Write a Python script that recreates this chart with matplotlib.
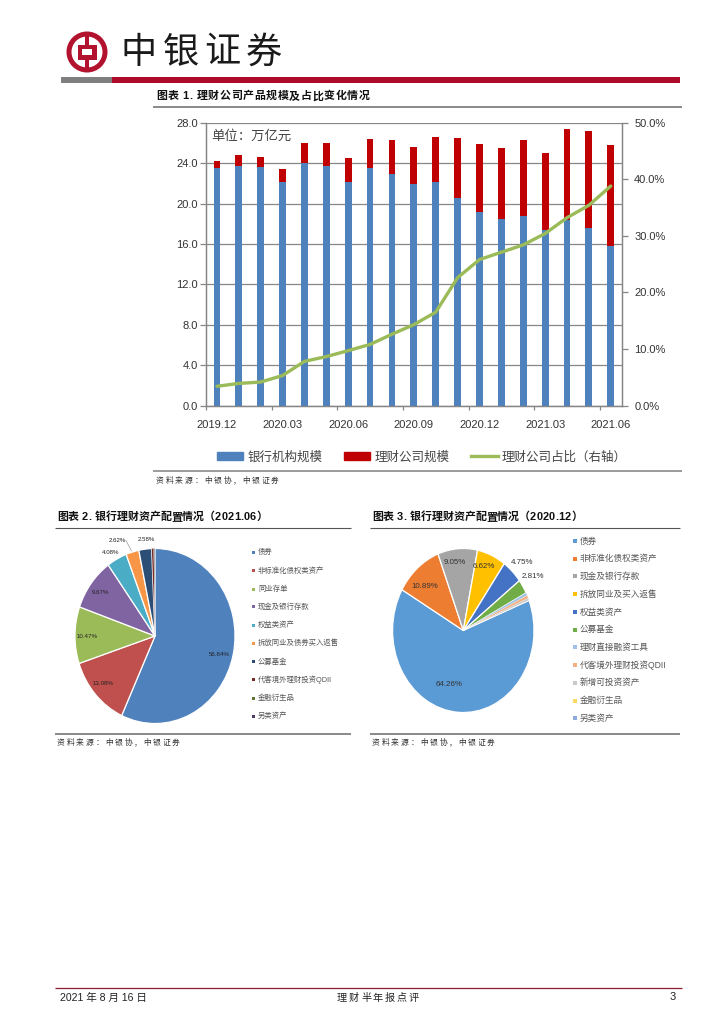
import matplotlib
matplotlib.use("Agg")
import matplotlib.pyplot as plt
from matplotlib.patches import Circle, Rectangle, Patch
from matplotlib.lines import Line2D

plt.rcParams['font.family'] = ['Liberation Sans', 'Noto Sans CJK SC', 'DejaVu Sans']
CJK = ['Noto Sans CJK SC', 'DejaVu Sans']

W, H = 724, 1024

months = ['2019.12', '2020.01', '2020.02', '2020.03', '2020.04', '2020.05', '2020.06',
          '2020.07', '2020.08', '2020.09', '2020.10', '2020.11', '2020.12', '2021.01',
          '2021.02', '2021.03', '2021.04', '2021.05', '2021.06']
bank_scale = [23.48, 23.74, 23.64, 22.16, 24.04, 23.74, 22.16, 23.54, 22.9, 21.93,
              22.13, 20.5, 19.15, 18.5, 18.8, 17.4, 18.33, 17.57, 15.8]
total_scale = [24.24, 24.77, 24.6, 23.4, 25.99, 25.99, 24.5, 26.4, 26.28, 25.6,
               26.54, 26.45, 25.85, 25.46, 26.3, 25.03, 27.4, 27.2, 25.8]
wm_share = [3.4, 3.9, 4.15, 5.3, 7.8, 8.65, 9.7, 10.8, 12.6, 14.3,
            16.5, 22.6, 25.8, 27.1, 28.4, 30.4, 33.2, 35.4, 38.8]
series_names = ['银行机构规模', '理财公司规模', '理财公司占比（右轴）']

pie2_labels = ['债券', '非标准化债权类资产', '同业存单', '现金及银行存款', '权益类资产',
               '拆放同业及债券买入返售', '公募基金', '代客境外理财投资QDII', '金融衍生品', '另类资产']
pie2_values = [56.84, 13.08, 10.47, 9.67, 4.08, 2.62, 2.58, 0.42, 0.14, 0.10]
pie2_colors = ['#4F81BD', '#C0504D', '#9BBB59', '#8064A2', '#4BACC6', '#F79646',
               '#2C4D75', '#772C2A', '#5F7530', '#4D3B62']

pie3_labels = ['债券', '非标准化债权类资产', '现金及银行存款', '拆放同业及买入返售', '权益类资产',
               '公募基金', '理财直接融资工具', '代客境外理财投资QDII', '新增可投资资产', '金融衍生品', '另类资产']
pie3_values = [64.26, 10.89, 9.05, 6.62, 4.75, 2.81, 0.55, 0.6, 0.45, 0.01, 0.01]
pie3_colors = ['#5B9BD5', '#ED7D31', '#A5A5A5', '#FFC000', '#4472C4', '#70AD47',
               '#9DC3E6', '#F4B183', '#C9C9C9', '#FFD966', '#8FAADC']

fig = plt.figure(figsize=(W / 100, H / 100), dpi=100, facecolor='white')


def fx(px):
    return px / W


def fy(py):
    return 1 - py / H


def axes_px(l, t, r, b, **kw):
    return fig.add_axes([fx(l), fy(b), (r - l) / W, (b - t) / H], **kw)


def rule(x0, x1, y, color, lw):
    fig.add_artist(Line2D([fx(x0), fx(x1)], [fy(y), fy(y)], color=color, lw=lw, solid_capstyle='butt'))


def txt(px, py, s, size, color='#222222', ha='left', va='center', **kw):
    kw.setdefault('family', plt.rcParams['font.family'])
    return fig.text(fx(px), fy(py), s, fontsize=size, color=color, ha=ha, va=va, **kw)


def spaced(px, py, s, size, step, **kw):
    x = px
    for ch in s:
        txt(x, py, ch, size, family=CJK if ord(ch) > 255 else ['Liberation Sans'], **kw)
        if ord(ch) > 255:
            x += step
        elif ch in '. ':
            x += step * 0.3
        else:
            x += step * 0.58


# ---------- header ----------
logo = axes_px(62, 28, 112, 78)
logo.set_xlim(0, 50)
logo.set_ylim(50, 0)
logo.axis('off')
RED = '#B2122D'
logo.add_patch(Circle((25, 24), 20.5, color=RED, lw=0))
logo.add_patch(Circle((25, 24), 15.5, color='white', lw=0))
logo.add_patch(Rectangle((23.2, 4), 3.6, 40, color=RED, lw=0))
logo.add_patch(Rectangle((15.5, 16.5), 19, 15, color=RED, lw=0))
logo.add_patch(Rectangle((20, 21), 10, 6, color='white', lw=0))
for i, ch in enumerate('中银证券'):
    txt(121 + i * 41.5, 52.5, ch, 26, color='#1a1a1a', family=CJK, fontweight='medium')
fig.add_artist(Rectangle((fx(61), fy(83)), 51 / W, 6 / H, transform=fig.transFigure, color='#7F7F7F', lw=0))
fig.add_artist(Rectangle((fx(112), fy(83)), 568 / W, 6 / H, transform=fig.transFigure, color='#AE0B2A', lw=0))

# ---------- section titles and rules ----------
GREY = '#808080'
spaced(156, 96, '图表 1. 理财公司产品规模及占比变化情况', 7.9, 11.6, fontweight='bold', color='#111111')
rule(153, 682, 107, GREY, 1.3)
rule(153, 682, 471, GREY, 1.1)
spaced(156, 481, '资料来源：中银协，中银证券', 5.6, 9.6, color='#333333')

spaced(57, 517, '图表 2. 银行理财资产配置情况（2021.06）', 7.9, 10.9, fontweight='bold', color='#111111')
rule(55, 351, 528, '#555555', 0.8)
rule(55, 351, 734, GREY, 1.3)
spaced(57, 743, '资料来源：中银协，中银证券', 5.6, 9.6, color='#333333')

spaced(372, 517, '图表 3. 银行理财资产配置情况（2020.12）', 7.9, 10.9, fontweight='bold', color='#111111')
rule(370, 680, 528, '#555555', 0.8)
rule(370, 680, 734, GREY, 1.3)
spaced(372, 743, '资料来源：中银协，中银证券', 5.6, 9.6, color='#333333')

# ---------- chart 1 ----------
SPINE = '#868686'
ax = axes_px(206, 122.7, 621.7, 405.5)
xs = list(range(len(months)))
company_scale = [t - b for t, b in zip(total_scale, bank_scale)]
ax.bar(xs, bank_scale, width=0.31, color='#4F81BD', zorder=3, label=series_names[0])
ax.bar(xs, company_scale, bottom=bank_scale, width=0.31, color='#C00000', zorder=3, label=series_names[1])
ax.set_xlim(-0.5, len(months) - 0.5)
ax.set_ylim(0, 28)
ax.set_yticks(range(0, 29, 4))
ax.set_yticklabels([f'{v:.1f}' for v in range(0, 29, 4)], fontsize=8, color='#333333')
ax.grid(axis='y', color=SPINE, lw=0.9, zorder=0)
ax.set_axisbelow(True)
ax.set_xticks([i - 0.5 for i in range(0, 19, 3)])
ax.set_xticklabels([])
ax.tick_params(axis='x', length=3, width=0.9, color=SPINE)
ax.tick_params(axis='y', length=4, width=0.9, color=SPINE, pad=2)
for i in range(0, 19, 3):
    ax.annotate(months[i], (i, 0), xytext=(0, -19), textcoords='offset pixels',
                ha='center', va='center', fontsize=8, color='#333333')
ax.spines['top'].set_visible(False)
for s in ['left', 'right', 'bottom']:
    ax.spines[s].set_color(SPINE)
    ax.spines[s].set_linewidth(0.9)
ax2 = ax.twinx()
ax2.plot(xs, wm_share, color='#9BBB59', lw=2.4, zorder=5, solid_capstyle='round', label=series_names[2])
ax2.set_ylim(0, 50)
ax2.set_yticks(range(0, 51, 10))
ax2.set_yticklabels([f'{v:.1f}%' for v in range(0, 51, 10)], fontsize=8, color='#333333')
ax2.tick_params(axis='y', length=4, width=0.9, color=SPINE, pad=5)
ax2.spines['top'].set_visible(False)
for s in ['left', 'right', 'bottom']:
    ax2.spines[s].set_color(SPINE)
    ax2.spines[s].set_linewidth(0.9)
txt(211, 136, '单位：万亿元', 9.6, color='#444444', family=CJK)
fig.legend(handles=[Patch(color='#4F81BD'), Patch(color='#C00000'), Line2D([], [], color='#9BBB59', lw=2.4)],
           labels=series_names, loc='center left', bbox_to_anchor=(fx(217), fy(457)), ncol=3, frameon=False,
           prop={'family': CJK, 'size': 9}, labelcolor='#444444', handlelength=2.1, handleheight=0.55,
           handletextpad=0.32, columnspacing=1.75, borderpad=0, borderaxespad=0)


# ---------- pies ----------
def draw_pie(cx, cy, rx, ry, values, colors, startangle):
    a = axes_px(cx - rx * 1.02, cy - ry * 1.02, cx + rx * 1.02, cy + ry * 1.02)
    wedges, _ = a.pie(values, colors=colors, startangle=startangle, counterclock=False,
                      radius=1, wedgeprops={'edgecolor': 'white', 'linewidth': 0.9})
    for w, v in zip(wedges, values):
        if v < 1:
            w.set_linewidth(0.15)
    a.set_aspect('auto')
    a.set_xlim(-1.02, 1.02)
    a.set_ylim(-1.02, 1.02)
    return wedges


draw_pie(155, 636, 80, 87.5, pie2_values, pie2_colors, 90)
draw_pie(463.3, 630.5, 70.7, 82, pie3_values, pie3_colors, 21.5)

pie2_text = [('56.84%', 219, 654), ('13.08%', 103, 683.5), ('10.47%', 87, 636), ('9.67%', 100, 592.5),
             ('4.08%', 111, 552), ('2.62%', 117, 540), ('2.58%', 146, 539.5)]
for s, x, y in pie2_text:
    txt(x, y, s, 4.4, ha='center', color='#222222')
fig.add_artist(Line2D([fx(126), fx(131.5)], [fy(540.5), fy(551)], color='#999999', lw=0.5))
pie3_text = [('64.26%', 449, 685), ('10.89%', 424.3, 586.7), ('9.05%', 455, 562), ('6.62%', 484, 567),
             ('4.75%', 522, 562), ('2.81%', 533.3, 576.7)]
for s, x, y in pie3_text:
    txt(x, y, s, 5.7, ha='center', color='#333333')

y2 = [552.3, 570.7, 589, 606.7, 625, 643, 661.7, 679.7, 698, 716]
for lab, col, y in zip(pie2_labels, pie2_colors, y2):
    fig.add_artist(Rectangle((fx(251.5), fy(y + 1.5)), 3 / W, 3 / H, transform=fig.transFigure, color=col, lw=0))
    txt(258, y, lab, 5.3, color='#555555')
y3 = [541, 558.7, 576.3, 594.3, 612, 629.7, 647.3, 665.3, 682.7, 700.7, 718.3]
for lab, col, y in zip(pie3_labels, pie3_colors, y3):
    fig.add_artist(Rectangle((fx(573), fy(y + 2)), 4 / W, 4 / H, transform=fig.transFigure, color=col, lw=0))
    txt(580, y, lab, 6.2, color='#555555')

# ---------- footer ----------
rule(55, 682, 988, '#8E1B2E', 0.9)
txt(60, 997.5, '2021 年 8 月 16 日', 7.6, color='#222222')
spaced(337, 997.5, '理财半年报点评', 7.3, 12, color='#222222')
txt(673, 997.5, '3', 8, ha='center', color='#222222')

fig.savefig('out.png', dpi=100, facecolor='white')
